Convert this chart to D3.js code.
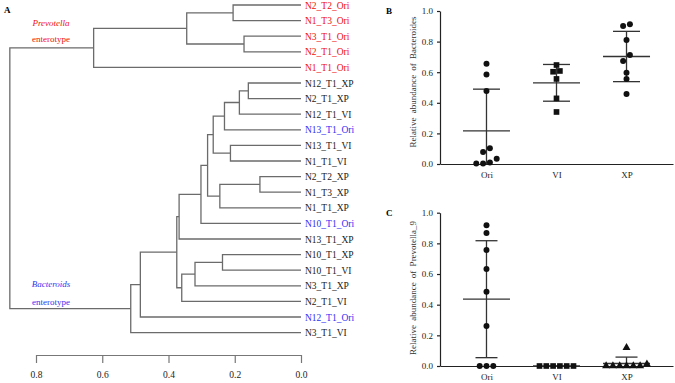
<!DOCTYPE html>
<html>
<head>
<meta charset="utf-8">
<script src="https://cdn.jsdelivr.net/npm/d3@7"></script>
<style>
  body { margin: 0; background: #fff; }
  svg { font-family: "Liberation Serif", "DejaVu Serif", serif; }
</style>
</head>
<body>
<div id="chart"></div>
<script>
// dendrogram leaves, top to bottom
const leafNames = [
  "N2_T2_Ori", "N1_T3_Ori", "N3_T1_Ori", "N2_T1_Ori", "N1_T1_Ori",
  "N12_T1_XP", "N2_T1_XP", "N12_T1_VI", "N13_T1_Ori", "N13_T1_VI", "N1_T1_VI",
  "N2_T2_XP", "N1_T3_XP", "N1_T1_XP", "N10_T1_Ori", "N13_T1_XP",
  "N10_T1_XP", "N10_T1_VI", "N3_T1_XP", "N2_T1_VI", "N12_T1_Ori", "N3_T1_VI"
];
const prevotellaLeaves = ["N2_T2_Ori", "N1_T3_Ori", "N3_T1_Ori", "N2_T1_Ori", "N1_T1_Ori"];
const bacteroidsLeaves = ["N13_T1_Ori", "N10_T1_Ori", "N12_T1_Ori"];

// merges: [left, right, height]; "m<i>" refers to merge i
const merges = [
  ["N2_T2_Ori", "N1_T3_Ori", 0.205],
  ["N3_T1_Ori", "N2_T1_Ori", 0.172],
  ["m0", "m1", 0.345],
  ["m2", "N1_T1_Ori", 0.626],
  ["N12_T1_XP", "N2_T1_XP", 0.159],
  ["m4", "N12_T1_VI", 0.186],
  ["m5", "N13_T1_Ori", 0.231],
  ["N13_T1_VI", "N1_T1_VI", 0.213],
  ["m6", "m7", 0.265],
  ["N2_T2_XP", "N1_T3_XP", 0.124],
  ["m9", "N1_T1_XP", 0.245],
  ["m8", "m10", 0.282],
  ["m11", "N10_T1_Ori", 0.302],
  ["m12", "N13_T1_XP", 0.368],
  ["N10_T1_XP", "N10_T1_VI", 0.237],
  ["m14", "N3_T1_XP", 0.320],
  ["m15", "N2_T1_VI", 0.360],
  ["m13", "m16", 0.375],
  ["m17", "N12_T1_Ori", 0.485],
  ["m18", "N3_T1_VI", 0.514],
  ["m3", "m19", 0.879]
];
const treeTicks = [0.8, 0.6, 0.4, 0.2, 0.0];

// scatter panels
const groups = ["Ori", "VI", "XP"];
const bacteroidesOri = [0.655, 0.585, 0.477, 0.103, 0.078, 0.035, 0.010, 0.003, 0.003];
const bacteroidesVI = [0.647, 0.608, 0.603, 0.556, 0.429, 0.340];
const bacteroidesXP = [0.913, 0.902, 0.810, 0.712, 0.673, 0.597, 0.556, 0.458];
const prevotellaOri = [0.918, 0.868, 0.757, 0.633, 0.485, 0.261, 0, 0, 0];
const prevotellaVI = [0, 0, 0, 0, 0, 0];
const prevotellaXP = [0.119, 0.012, 0, 0, 0, 0, 0, 0];
const abundanceTicks = [0, 0.2, 0.4, 0.6, 0.8, 1.0];

const W = 675, H = 383;
const svg = d3.select("#chart").append("svg")
  .attr("width", W).attr("height", H);

// ---------- A: dendrogram ----------
const nodes = {};
leafNames.forEach(n => nodes[n] = { name: n, h: 0 });
merges.forEach((m, i) => {
  nodes["m" + i] = { name: "m" + i, h: m[2], children: [nodes[m[0]], nodes[m[1]]] };
});
const root = d3.hierarchy(nodes["m" + (merges.length - 1)]);

const leafY = d3.scalePoint().domain(leafNames).range([5, 332.6]);
const hx = d3.scaleLinear().domain([0.8, 0]).range([36, 301]);

root.eachAfter(d => {
  d.py = d.children ? d3.mean(d.children, c => c.py) : leafY(d.data.name);
  d.px = hx(d.data.h);
});

const tree = svg.append("g");
tree.selectAll("path.link")
  .data(root.descendants().filter(d => d.children))
  .join("path")
  .attr("class", "link")
  .attr("fill", "none")
  .attr("stroke", "#6b6b6b")
  .attr("stroke-width", 1.3)
  .attr("d", d => {
    const [a, b] = d.children;
    return `M${a.px},${a.py}H${d.px}V${b.py}H${b.px}`;
  });

tree.selectAll("text.leaf")
  .data(root.leaves())
  .join("text")
  .attr("class", "leaf")
  .attr("x", d => d.px + 4)
  .attr("y", d => d.py + 3.5)
  .attr("font-size", 9.5)
  .attr("fill", d => prevotellaLeaves.includes(d.data.name) ? "#f01010"
    : bacteroidsLeaves.includes(d.data.name) ? "#2f2ff5" : "#1a1a1a")
  .text(d => d.data.name);

const treeAxis = svg.append("g")
  .attr("transform", "translate(0,355)")
  .call(d3.axisBottom(hx).tickValues(treeTicks).tickFormat(d3.format(".1f"))
    .tickSize(8).tickSizeOuter(0).tickPadding(8));
treeAxis.selectAll("path, line").attr("stroke", "#777").attr("stroke-width", 1.2);
treeAxis.selectAll("text").attr("font-family", "Liberation Serif").attr("font-size", 9.5).attr("fill", "#222");

svg.append("text").attr("x", 4).attr("y", 13)
  .attr("font-size", 9).attr("font-weight", "bold").text("A");

const notes = [
  { t: "Prevotella", y: 26, c: "#f01010", i: true },
  { t: "enterotype", y: 42, c: "#f01010", i: false },
  { t: "Bacteroids", y: 287, c: "#3535f0", i: true },
  { t: "enterotype", y: 305, c: "#3535f0", i: false }
];
svg.selectAll("text.note").data(notes).join("text")
  .attr("class", "note")
  .attr("x", 51).attr("y", d => d.y)
  .attr("text-anchor", "middle")
  .attr("font-size", 9)
  .attr("font-style", d => d.i ? "italic" : "normal")
  .attr("fill", d => d.c)
  .text(d => d.t);

// ---------- B and C: scatter with mean +/- SD ----------
function beeswarm(values, y, spacing) {
  const idx = values.map((v, i) => i).sort((a, b) => values[a] - values[b]);
  const off = new Array(values.length).fill(0);
  let row = [];
  const flush = () => {
    row.forEach((k, j) => off[k] = (j - (row.length - 1) / 2) * spacing);
    row = [];
  };
  idx.forEach(k => {
    if (row.length && Math.abs(y(values[k]) - y(values[row[0]])) > 6) flush();
    row.push(k);
  });
  flush();
  return off;
}

function drawPanel(cfg) {
  const g = svg.append("g");
  const y = d3.scaleLinear().domain([0, 1]).range([cfg.bottom, cfg.top]);
  const x = d3.scalePoint().domain(groups).range([440, 673]).padding(0.664);

  const ya = g.append("g").attr("transform", "translate(440,0)")
    .call(d3.axisLeft(y).tickValues(abundanceTicks).tickFormat(d3.format(".1f"))
      .tickSize(3).tickSizeOuter(0).tickPadding(4));
  const xa = g.append("g").attr("transform", `translate(0,${cfg.bottom})`)
    .call(d3.axisBottom(x).tickSize(0).tickSizeOuter(0).tickPadding(8));
  g.selectAll(".tick text").attr("font-family", "Liberation Serif")
    .attr("font-size", 9).attr("fill", "#222");
  g.selectAll(".domain, .tick line").attr("stroke", "#222").attr("stroke-width", 1.2);

  g.append("text")
    .attr("transform", `translate(416,${cfg.labelY}) rotate(-90)`)
    .attr("text-anchor", "middle")
    .attr("font-size", 9)
    .style("word-spacing", "2px")
    .attr("fill", "#333")
    .text(cfg.label);

  g.append("text").attr("x", 386).attr("y", cfg.top + 3)
    .attr("font-size", 9).attr("font-weight", "bold").text(cfg.letter);

  cfg.series.forEach((vals, gi) => {
    const cx = x(groups[gi]);
    const m = d3.mean(vals);
    const sd = d3.deviation(vals) || 0;
    const hi = m + sd, lo = Math.max(0, m - sd);
    const bars = g.append("g").attr("stroke", "#333").attr("stroke-width", 1.3);
    bars.append("line").attr("x1", cx).attr("x2", cx).attr("y1", y(lo)).attr("y2", y(hi));
    bars.append("line").attr("x1", cx - 23.5).attr("x2", cx + 23.5).attr("y1", y(m)).attr("y2", y(m));
    bars.append("line").attr("x1", cx - cfg.cap).attr("x2", cx + cfg.cap).attr("y1", y(hi)).attr("y2", y(hi));
    if (m - sd > 0)
      bars.append("line").attr("x1", cx - cfg.cap).attr("x2", cx + cfg.cap).attr("y1", y(lo)).attr("y2", y(lo));

    const off = beeswarm(vals, y, 6.8);
    const sym = d3.symbol().type(cfg.shapes[gi]).size(cfg.shapes[gi] === d3.symbolSquare ? 32 : 28);
    g.selectAll(null).data(vals).join("path")
      .attr("d", sym)
      .attr("fill", "#111")
      .attr("transform", (d, i) => `translate(${cx + off[i]},${y(d)})`);
  });
}

drawPanel({
  letter: "B", top: 11, bottom: 164, labelY: 82, cap: 13.5,
  label: "Relative abundance of Bacteroides",
  series: [bacteroidesOri, bacteroidesVI, bacteroidesXP],
  shapes: [d3.symbolCircle, d3.symbolSquare, d3.symbolCircle]
});
drawPanel({
  letter: "C", top: 212.7, bottom: 366, labelY: 288, cap: 11,
  label: "Relative abundance of Prevotella_9",
  series: [prevotellaOri, prevotellaVI, prevotellaXP],
  shapes: [d3.symbolCircle, d3.symbolSquare, d3.symbolTriangle]
});
</script>
</body>
</html>
